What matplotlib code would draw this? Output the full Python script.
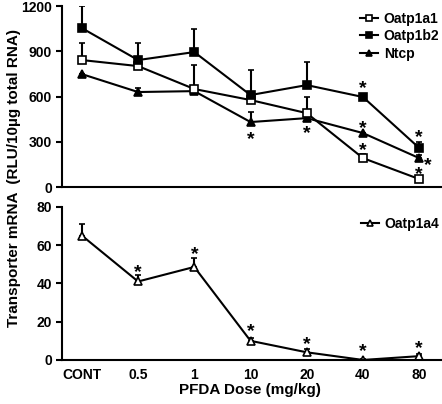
import matplotlib
matplotlib.use("Agg")
import matplotlib.pyplot as plt
from matplotlib.lines import Line2D
import numpy as np

plt.rcParams['font.family'] = ['Liberation Sans', 'DejaVu Sans']
plt.rcParams['font.weight'] = 'bold'

# doses (categorical x axis)
doses = ["CONT", "0.5", "1", "10", "20", "40", "80"]

# top panel: mean and upper error
oatp1a1 = [842, 802, 650, 577, 490, 192, 53]
oatp1a1_err = [113, 0, 0, 0, 107, 25, 20]
oatp1b2 = [1054, 842, 895, 610, 676, 597, 259]
oatp1b2_err = [146, 110, 150, 166, 153, 20, 40]
ntcp = [749, 630, 636, 431, 457, 358, 192]
ntcp_err = [0, 30, 170, 66, 0, 0, 20]

# bottom panel
oatp1a4 = [65, 41, 48.6, 10, 4, 0, 2]
oatp1a4_err = [6, 3.5, 4.7, 1.5, 1.8, 0.5, 1]

# asterisks: (series, dose index, x offset px, y offset px of star centre from marker)
stars_top = [("ntcp", 3, 0, -14), ("ntcp", 4, 0, -12),
             ("oatp1b2", 5, 0, 12), ("ntcp", 5, 0, 8), ("oatp1a1", 5, 0, 11),
             ("oatp1b2", 6, 0, 14), ("ntcp", 6, 9, -4), ("oatp1a1", 6, 0, 8)]
stars_bot = [(1, 12), (2, 16), (3, 13), (4, 11), (5, 12), (6, 11)]

x = np.arange(len(doses))
STAR_FS = 14
GLYPH_MID = 8  # px from baseline to centre of the asterisk glyph

fig = plt.figure(figsize=(4.42, 4.04), dpi=100)
ax1 = fig.add_axes([0.140, 0.537, 0.858, 0.448])
ax2 = fig.add_axes([0.140, 0.109, 0.858, 0.379])

def errline(ax, y, err, marker, face, ms=6):
    ax.errorbar(x, y, yerr=[np.zeros(len(y)), err], color='black', lw=1.5,
                marker=marker, markersize=ms, markerfacecolor=face,
                markeredgecolor='black', markeredgewidth=1.2,
                capsize=2.5, elinewidth=1.5, capthick=1.5)

def star(ax, xv, yv, dx, dy):
    ax.annotate("*", (xv, yv), xytext=(dx, dy - GLYPH_MID),
                textcoords='offset pixels', ha='center', va='baseline',
                fontsize=STAR_FS, fontweight='bold', annotation_clip=False)

errline(ax1, ntcp, ntcp_err, '^', 'black')
errline(ax1, oatp1a1, oatp1a1_err, 's', 'white')
errline(ax1, oatp1b2, oatp1b2_err, 's', 'black')

series = {"oatp1a1": oatp1a1, "oatp1b2": oatp1b2, "ntcp": ntcp}
for name, i, dx, dy in stars_top:
    star(ax1, x[i], series[name][i], dx, dy)

errline(ax2, oatp1a4, oatp1a4_err, '^', 'white')
for i, dy in stars_bot:
    star(ax2, x[i], oatp1a4[i], 0, dy)

for ax in (ax1, ax2):
    ax.set_xlim(-0.355, 6.39)
    ax.spines['top'].set_visible(False)
    ax.spines['right'].set_visible(False)
    ax.spines['left'].set_linewidth(1.5)
    ax.spines['bottom'].set_linewidth(1.5)
    ax.tick_params(axis='y', width=1.5, length=4, labelsize=10, pad=3)
    ax.tick_params(axis='x', length=0, labelsize=10, pad=6)

ax1.set_ylim(0, 1200)
ax1.set_yticks([0, 300, 600, 900, 1200])
ax1.set_xticks([])
ax2.set_ylim(0, 80)
ax2.set_yticks([0, 20, 40, 60, 80])
ax2.set_xticks(x)
ax2.set_xticklabels(doses)
for lab in ax2.get_xticklabels() + ax2.get_yticklabels() + ax1.get_yticklabels():
    lab.set_fontweight('bold')

def handle(marker, face):
    return Line2D([], [], color='black', lw=1.5, marker=marker, markersize=5,
                  markerfacecolor=face, markeredgecolor='black', markeredgewidth=1.2)

leg_kw = dict(loc='upper right', frameon=False, fontsize=10, handlelength=1.3,
              handletextpad=0.4, labelspacing=0.25, borderaxespad=0.0)
ax1.legend([handle('s', 'white'), handle('s', 'black'), handle('^', 'black')],
           ["Oatp1a1", "Oatp1b2", "Ntcp"], bbox_to_anchor=(1.01, 1.0), **leg_kw)
ax2.legend([handle('^', 'white')], ["Oatp1a4"], bbox_to_anchor=(1.01, 0.97), **leg_kw)

fig.text(0.032, 0.56, "Transporter mRNA  (RLU/10\u00b5g total RNA)", rotation=90,
         ha='center', va='center', fontsize=11, fontweight='bold')
fig.text(0.565, 0.035, "PFDA Dose (mg/kg)", ha='center', va='center',
         fontsize=11, fontweight='bold')

fig.savefig("out.png", dpi=100)
